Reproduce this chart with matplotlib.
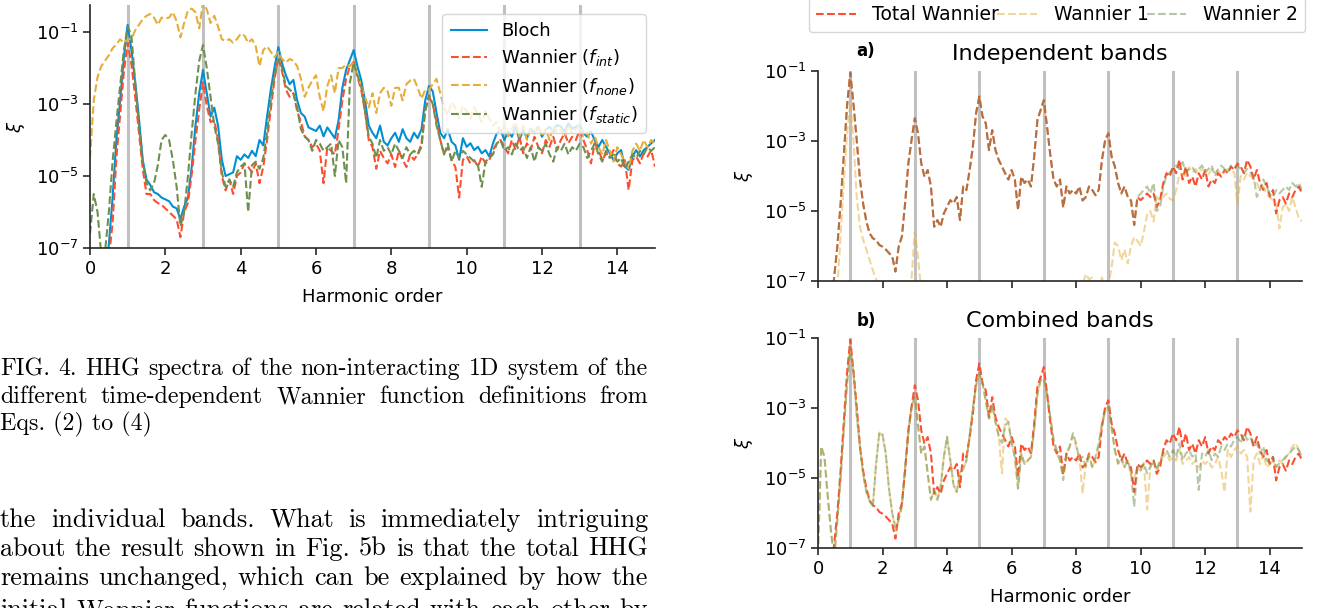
import numpy as np
import matplotlib.pyplot as plt
from matplotlib.ticker import NullLocator

W, H = 1323, 608

# harmonic order grid (step 0.1), all spectra given as log10(xi); -8 = below the axis
harmonic = np.linspace(0, 15, 151)
odd_harmonics = [1, 3, 5, 7, 9, 11, 13]

# ---- Fig. 4 (left) ----
bloch = [
    -8, -8, -8, -8, -8, -6.9, -5.6, -4.0, -2.9, -1.7,
    -0.8, -1.5, -2.4, -3.4, -4.55, -5.1, -5.25, -5.45, -5.5, -5.6,
    -5.65, -5.7, -5.85, -5.9, -6.2, -5.85, -5.6, -4.75, -3.6, -2.7,
    -2.05, -2.7, -3.35, -3.1, -3.6, -4.55, -5.0, -4.95, -4.9, -4.45,
    -4.55, -4.4, -4.5, -4.3, -4.45, -4.0, -4.15, -3.35, -2.6, -1.97,
    -1.42, -1.87, -2.2, -2.45, -2.33, -2.9, -3.25, -3.35, -3.65, -3.7,
    -3.75, -3.6, -3.9, -3.65, -3.8, -3.95, -3.45, -2.55, -2.05, -1.78,
    -1.5, -1.95, -2.33, -2.9, -3.6, -3.8, -3.95, -3.6, -4.05, -4.15,
    -3.95, -3.8, -4.05, -3.7, -3.95, -4.05, -3.8, -3.95, -3.7, -2.9,
    -2.5, -2.65, -3.25, -3.8, -3.95, -3.7, -4.05, -4.15, -4.55, -3.95,
    -4.19, -4.09, -4.28, -4.19, -4.37, -4.28, -4.46, -4.09, -3.81, -3.72,
    -4.0, -3.77, -3.91, -3.63, -4.0, -3.72, -3.95, -3.68, -3.81, -3.63,
    -3.91, -3.72, -3.63, -3.77, -3.58, -3.63, -3.77, -3.54, -3.68, -3.63,
    -3.58, -3.81, -3.91, -3.77, -4.0, -4.19, -4.0, -4.19, -4.37, -4.56,
    -4.37, -4.28, -4.74, -4.83, -4.46, -4.28, -4.46, -4.28, -4.19, -4.09,
    -4.0]
wannier_int = [
    -8, -8, -8, -8, -8, -7.3, -6.3, -4.5, -3.3, -2.1,
    -1.3, -1.9, -2.8, -3.8, -4.8, -5.5, -5.5, -5.67, -5.75, -5.8,
    -5.9, -6.0, -6.1, -6.2, -6.7, -6.0, -5.75, -4.95, -4.0, -3.15,
    -2.4, -3.05, -3.5, -3.45, -4.0, -5.0, -5.4, -5.1, -5.5, -5.0,
    -4.9, -4.65, -4.75, -4.9, -4.65, -5.2, -4.75, -4.0, -3.15, -2.3,
    -1.7, -2.1, -2.6, -2.8, -2.7, -3.2, -3.5, -3.9, -4.0, -4.2,
    -4.1, -4.3, -5.2, -4.2, -4.3, -4.4, -3.7, -2.9, -2.3, -1.95,
    -1.83, -2.25, -2.6, -3.2, -4.0, -4.2, -4.8, -4.3, -4.5, -4.65,
    -4.4, -4.75, -4.3, -4.55, -4.75, -4.4, -4.55, -4.4, -4.1, -3.15,
    -2.8, -3.0, -3.5, -4.0, -4.4, -4.2, -4.55, -4.75, -5.6, -4.55,
    -4.46, -4.65, -4.56, -4.74, -4.46, -4.65, -4.56, -4.28, -4.09, -4.0,
    -4.19, -4.37, -4.0, -4.28, -3.91, -4.37, -4.09, -4.28, -3.91, -4.19,
    -4.37, -4.0, -4.19, -3.91, -4.28, -4.0, -3.81, -4.09, -3.91, -4.0,
    -3.72, -4.0, -4.28, -4.65, -4.09, -4.28, -4.56, -4.37, -4.46, -4.28,
    -4.65, -4.74, -4.56, -5.39, -4.56, -4.46, -4.65, -4.37, -4.46, -4.28,
    -4.74]
wannier_none = [
    -4.5, -2.9, -2.25, -1.95, -1.8, -1.65, -1.45, -1.35, -1.2, -1.3,
    -1.2, -1.2, -0.95, -0.8, -0.65, -0.55, -0.5, -0.6, -0.8, -0.6,
    -0.62, -0.6, -0.45, -0.7, -1.15, -0.75, -0.4, -0.35, -0.45, -0.9,
    -0.18, -0.37, -0.75, -0.55, -0.85, -1.2, -1.25, -1.2, -1.3, -1.2,
    -1.05, -1.1, -1.3, -1.2, -1.4, -1.95, -1.5, -1.4, -1.55, -1.7,
    -1.55, -1.75, -1.85, -1.75, -1.8, -1.95, -2.3, -2.8, -2.55, -2.35,
    -2.2, -2.8, -3.2, -2.5, -2.2, -2.7, -2.0, -2.0, -1.9, -1.95,
    -1.85, -2.2, -2.5, -2.8, -3.1, -2.7, -3.25, -2.7, -2.55, -2.65,
    -3.05, -2.55, -2.55, -2.9, -2.45, -2.35, -2.3, -2.55, -2.85, -2.6,
    -2.6, -2.45, -2.3, -2.7, -3.1, -3.3, -2.95, -3.1, -3.4, -3.05,
    -3.2, -3.4, -3.1, -3.3, -3.5, -3.2, -3.4, -3.6, -3.5, -3.8,
    -3.6, -3.9, -3.7, -3.5, -3.9, -3.6, -4.0, -3.7, -3.8, -3.6,
    -3.9, -3.7, -4.0, -3.6, -3.8, -3.7, -3.9, -3.6, -3.8, -3.7,
    -3.6, -3.9, -3.8, -4.1, -3.9, -4.2, -4.4, -4.0, -4.3, -4.6,
    -4.2, -4.4, -4.6, -4.8, -4.3, -4.1, -4.3, -4.0, -4.2, -4.0,
    -4.1]
wannier_static = [
    -6.6, -5.5, -6.0, -7.2, -7.1, -6.0, -4.6, -3.5, -2.5, -1.5,
    -0.85, -1.1, -2.4, -3.6, -4.6, -5.2, -5.4, -5.2, -4.7, -4.0,
    -3.86, -4.0, -4.56, -5.3, -6.4, -6.0, -5.0, -3.8, -2.7, -1.8,
    -1.36, -2.0, -2.8, -3.6, -4.1, -4.9, -5.3, -5.1, -5.3, -4.9,
    -4.74, -4.65, -6.0, -4.7, -4.6, -4.8, -4.5, -3.8, -2.9, -2.2,
    -1.75, -2.0, -2.5, -2.6, -2.7, -3.1, -3.7, -3.9, -4.0, -4.3,
    -4.0, -4.1, -4.3, -4.2, -4.1, -5.0, -4.0, -4.2, -5.2, -2.4,
    -1.85, -2.2, -2.5, -3.2, -3.9, -4.1, -4.5, -4.0, -4.3, -4.2,
    -4.4, -4.1, -4.3, -4.5, -4.2, -4.4, -4.3, -4.4, -4.2, -3.2,
    -2.75, -3.0, -3.6, -4.0, -4.4, -4.1, -4.6, -4.3, -4.5, -4.3,
    -4.4, -4.5, -4.6, -4.7, -5.3, -4.6, -4.5, -4.4, -4.1, -4.0,
    -4.3, -4.2, -4.4, -4.1, -4.3, -4.2, -4.5, -4.2, -4.6, -4.2,
    -4.3, -4.1, -4.4, -4.6, -4.2, -4.3, -4.1, -4.4, -4.2, -4.3,
    -4.1, -4.2, -4.5, -4.3, -4.1, -4.4, -4.6, -4.3, -4.5, -4.4,
    -4.6, -4.5, -4.8, -4.6, -4.4, -4.5, -4.3, -4.4, -4.2, -4.3,
    -4.2]

# ---- Fig. 5 (right) ----
total_wannier = [
    -8, -8, -8, -8, -8, -6.9, -6.0, -4.8, -3.4, -2.0,
    -1.05, -1.95, -2.97, -4.1, -4.8, -5.3, -5.64, -5.78, -5.83, -5.97,
    -6.02, -6.1, -6.2, -6.3, -6.73, -6.02, -5.73, -4.78, -3.64, -2.97,
    -2.35, -2.78, -3.64, -4.02, -3.83, -4.3, -5.45, -5.26, -5.45, -5.07,
    -4.88, -4.69, -4.78, -4.6, -5.26, -4.3, -4.4, -3.83, -3.16, -2.2,
    -1.73, -2.3, -2.5, -3.26, -2.69, -3.26, -3.54, -3.73, -3.92, -4.1,
    -3.83, -4.1, -4.97, -4.02, -4.2, -4.1, -4.3, -3.45, -2.4, -2.11,
    -1.83, -2.6, -3.4, -4.1, -4.3, -4.1, -4.9, -4.3, -4.5, -4.4,
    -4.5, -4.3, -4.7, -4.6, -4.3, -4.4, -4.55, -4.4, -3.54, -2.97,
    -2.78, -3.45, -3.73, -4.2, -4.5, -4.3, -4.6, -4.7, -5.4, -4.6,
    -4.69, -4.6, -4.5, -4.6, -4.5, -4.88, -4.69, -4.2, -3.92, -4.02,
    -3.73, -3.92, -3.54, -4.1, -3.73, -4.2, -4.02, -4.3, -3.92, -4.1,
    -3.83, -4.3, -4.1, -4.2, -3.92, -4.02, -3.83, -3.92, -3.73, -3.83,
    -3.64, -3.73, -3.92, -3.54, -3.73, -4.1, -3.83, -4.2, -4.4, -4.2,
    -4.6, -4.4, -5.07, -4.69, -4.6, -4.79, -4.5, -4.6, -4.4, -4.3,
    -4.5]
indep_wannier1 = [
    -8, -8, -8, -8, -8, -8, -7.2, -5.7, -4.2, -2.8,
    -1.9, -2.97, -4.6, -5.45, -5.83, -6.1, -6.4, -6.7, -6.95, -7.2,
    -8, -8, -8, -8, -8, -8, -8, -8, -7.5, -6.9,
    -5.6, -6.3, -7.3, -8, -8, -8, -8, -8, -8, -8,
    -8, -8, -8, -8, -8, -8, -8, -8, -8, -8,
    -8, -8, -8, -8, -8, -8, -8, -8, -8, -8,
    -8, -8, -8, -8, -8, -8, -8, -8, -8, -8,
    -8, -8, -8, -8, -8, -8, -8, -8, -8, -8,
    -8, -8, -7.1, -6.8, -6.95, -6.9, -7.0, -7.3, -6.9, -7.3,
    -7.1, -6.6, -5.9, -6.0, -6.4, -6.1, -6.5, -6.0, -5.75, -5.85,
    -6.0, -5.6, -5.1, -5.0, -5.3, -4.6, -4.7, -4.6, -4.5, -4.65,
    -4.7, -4.4, -3.95, -3.95, -4.0, -3.75, -3.9, -3.8, -3.9, -3.8,
    -3.85, -3.95, -3.8, -3.9, -3.85, -3.95, -3.9, -3.8, -3.85, -3.9,
    -4.8, -4.0, -4.1, -3.9, -4.0, -4.1, -4.2, -4.4, -4.3, -4.5,
    -4.6, -4.7, -4.8, -5.5, -4.9, -4.8, -5.0, -4.6, -4.9, -5.2,
    -5.3]
indep_wannier2 = total_wannier[:100] + [
    -4.5, -4.4, -4.3, -4.5, -4.2, -5.0, -4.9, -4.3, -4.0, -3.9,
    -3.8, -3.7, -3.8, -3.6, -3.9, -3.8, -3.75, -3.9, -3.8, -3.7,
    -3.9, -3.8, -3.7, -4.0, -3.8, -3.7, -3.8, -3.9, -3.7, -3.75,
    -3.7, -3.8, -3.9, -3.8, -3.9, -4.0, -4.6, -4.4, -4.1, -4.3,
    -4.5, -4.6, -4.4, -4.5, -4.4, -4.3, -4.4, -4.2, -4.3, -4.2,
    -4.4]
comb_wannier2 = [
    -7.2, -4.1, -4.4, -5.5, -6.5, -7.3, -6.2, -5.0, -3.6, -2.3,
    -1.25, -2.0, -3.2, -4.1, -4.9, -5.4, -5.65, -5.82, -4.6, -3.7,
    -3.75, -4.3, -5.3, -6.0, -6.4, -6.2, -5.8, -4.7, -3.72, -2.96,
    -2.68, -3.5, -4.3, -4.1, -4.87, -5.63, -5.34, -5.63, -5.25, -4.39,
    -3.82, -4.49, -5.2, -5.4, -4.85, -4.75, -4.5, -3.8, -3.0, -2.35,
    -2.0, -2.3, -2.8, -3.3, -2.9, -3.4, -3.8, -4.0, -3.5, -3.4,
    -4.0, -4.4, -5.3, -4.3, -4.6, -4.5, -4.4, -3.6, -2.6, -2.2,
    -2.15, -2.58, -3.25, -3.91, -4.2, -4.49, -5.06, -4.3, -4.1, -3.72,
    -4.01, -4.49, -4.39, -4.68, -4.39, -4.68, -4.39, -4.01, -3.44, -3.06,
    -2.96, -3.53, -4.2, -4.58, -4.39, -4.68, -4.49, -4.87, -5.82, -4.68,
    -4.77, -4.58, -4.87, -4.68, -4.49, -4.77, -4.49, -4.3, -4.2, -4.39,
    -4.2, -4.39, -4.01, -4.49, -4.3, -4.2, -4.39, -4.3, -5.34, -4.3,
    -4.39, -4.2, -4.49, -4.3, -4.39, -4.1, -4.2, -4.01, -4.1, -3.91,
    -3.82, -4.01, -3.72, -3.91, -3.82, -4.1, -4.01, -4.3, -4.1, -4.49,
    -4.58, -4.39, -4.68, -4.58, -4.49, -4.39, -4.3, -4.2, -4.1, -4.2,
    -4.39]
comb_wannier1 = [
    -7.2, -4.1, -4.4, -5.5, -6.5, -7.3, -6.2, -5.0, -3.6, -2.3,
    -1.3, -2.0, -3.2, -4.1, -4.9, -5.4, -5.65, -5.8, -4.6, -3.7,
    -3.8, -4.3, -5.3, -6.0, -6.5, -6.2, -5.8, -4.7, -3.72, -2.96,
    -2.7, -3.5, -4.3, -4.1, -4.87, -5.6, -5.34, -5.6, -5.25, -4.4,
    -3.85, -4.5, -5.2, -5.4, -4.85, -4.75, -4.5, -3.8, -3.0, -2.35,
    -2.05, -2.3, -2.8, -3.3, -2.9, -3.4, -3.8, -4.87, -3.3, -3.4,
    -4.0, -4.4, -5.3, -4.3, -4.6, -4.5, -4.4, -3.6, -2.6, -2.2,
    -2.2, -2.7, -3.3, -3.9, -4.3, -4.5, -4.9, -4.4, -4.1, -3.8,
    -4.1, -4.4, -5.44, -4.6, -4.3, -4.7, -4.5, -4.1, -3.5, -3.1,
    -3.0, -3.6, -4.2, -4.6, -4.5, -4.7, -4.5, -4.9, -5.0, -4.7,
    -4.8, -4.6, -5.9, -4.7, -4.5, -4.8, -4.5, -4.4, -4.3, -4.5,
    -4.4, -4.5, -4.2, -4.6, -4.5, -4.4, -4.6, -4.5, -4.7, -4.5,
    -4.6, -4.5, -4.7, -4.6, -4.4, -4.8, -5.4, -4.2, -4.4, -4.2,
    -4.1, -4.3, -4.2, -4.4, -5.96, -4.5, -4.3, -4.6, -4.3, -4.7,
    -4.6, -4.5, -4.7, -4.5, -4.6, -4.4, -4.3, -4.1, -4.0, -4.2,
    -4.4]

BLUE, RED, YELLOW, GREEN = '#008fd5', '#fc4f30', '#e5ae38', '#6d904f'
INK = '0.15'

caption_lines = [
    "FIG. 4. HHG spectra of the non-interacting 1D system of the",
    "different time-dependent Wannier function definitions from",
]
caption_last = "Eqs. (2) to (4)"
body_lines = [
    "the individual bands.  What is immediately intriguing",
    "about the result shown in Fig. 5b is that the total HHG",
    "remains unchanged, which can be explained by how the",
    "initial Wannier functions are related with each other by",
]


def px_axes(fig, x0, y0, x1, y1):
    return fig.add_axes([x0 / W, 1 - y1 / H, (x1 - x0) / W, (y1 - y0) / H])


def style(ax, ytop):
    for s in ['top', 'right']:
        ax.spines[s].set_visible(False)
    for s in ['left', 'bottom']:
        ax.spines[s].set_color(INK)
        ax.spines[s].set_linewidth(1.2)
    ax.set_yscale('log')
    ax.set_xlim(0, 15)
    ax.set_ylim(1e-7, ytop)
    ax.set_yticks([1e-7, 1e-5, 1e-3, 1e-1])
    ax.yaxis.set_minor_locator(NullLocator())
    ax.set_xticks(range(0, 15, 2))
    ax.tick_params(labelsize=13, length=5, width=1.2, color=INK, labelcolor='black')
    for h in odd_harmonics:
        ax.axvline(h, color='#c0c0c0', lw=2.2, zorder=0)


def lin(vals):
    return 10.0 ** np.array(vals)


fig = plt.figure(figsize=(W / 100, H / 100), dpi=100)

# left chart
ax = px_axes(fig, 90, 5, 655, 248)
style(ax, 10 ** -0.25)
ax.plot(harmonic, lin(bloch), color=BLUE, lw=1.5, label='Bloch')
ax.plot(harmonic, lin(wannier_int), color=RED, lw=1.5, ls='--', label=r'Wannier ($f_{int}$)')
ax.plot(harmonic, lin(wannier_none), color=YELLOW, lw=1.5, ls='--', label=r'Wannier ($f_{none}$)')
ax.plot(harmonic, lin(wannier_static), color=GREEN, lw=1.5, ls='--', label=r'Wannier ($f_{static}$)')
ax.set_xlabel('Harmonic order', fontsize=13, labelpad=7)
ax.set_ylabel(r'$\xi$', fontsize=13, labelpad=6)
ax.legend(loc='upper right', fontsize=13, handlelength=2.0, borderpad=0.45,
          labelspacing=0.4, framealpha=0.8)

# right panels
axa = px_axes(fig, 818, 71, 1302, 281)
style(axa, 1e-1)
axa.tick_params(labelbottom=False)
axa.plot(harmonic, lin(total_wannier), color=RED, lw=1.5, ls='--', label='Total Wannier')
axa.plot(harmonic, lin(indep_wannier1), color=YELLOW, lw=1.5, ls='--', alpha=0.5, label='Wannier 1')
axa.plot(harmonic, lin(indep_wannier2), color=GREEN, lw=1.5, ls='--', alpha=0.5, label='Wannier 2')
axa.set_title('Independent bands', fontsize=16, pad=8)
axa.set_ylabel(r'$\xi$', fontsize=13, labelpad=6)

axb = px_axes(fig, 818, 338, 1302, 548)
style(axb, 1e-1)
axb.plot(harmonic, lin(total_wannier), color=RED, lw=1.5, ls='--')
axb.plot(harmonic, lin(comb_wannier1), color=YELLOW, lw=1.5, ls='--', alpha=0.5)
axb.plot(harmonic, lin(comb_wannier2), color=GREEN, lw=1.5, ls='--', alpha=0.5)
axb.set_title('Combined bands', fontsize=16, pad=8)
axb.set_ylabel(r'$\xi$', fontsize=13, labelpad=6)
axb.set_xlabel('Harmonic order', fontsize=13, labelpad=7)

fig.text(866 / W, 1 - 56 / H, 'a)', fontsize=12, fontweight='bold', ha='center')
fig.text(866 / W, 1 - 326 / H, 'b)', fontsize=12, fontweight='bold', ha='center')

handles, labels = axa.get_legend_handles_labels()
fig.legend(handles, labels, loc='lower center', bbox_to_anchor=(1057 / W, 1 - 41 / H),
           ncol=3, fontsize=13.5, handlelength=2.1, handletextpad=0.9,
           columnspacing=-0.1, borderpad=0.4, framealpha=0.8)

# caption / body text in a Computer-Modern-like serif, fitted to the column width
renderer = fig.canvas.get_renderer()
X0, X1 = 0, 648


def fit_size(line, target):
    probe = fig.text(0, 0, line, fontsize=10, family='cmr10')
    width = probe.get_window_extent(renderer).width
    probe.remove()
    return 10 * target / width


CAPTION_SIZE = fit_size(caption_lines[0], X1 - X0 - 4)
BODY_SIZE = fit_size(body_lines[1], X1 - X0 - 4)


def justify(line, baseline, size):
    words = line.split()
    items = [fig.text(0, 1 - baseline / H, w, fontsize=size, family='cmr10',
                      va='baseline') for w in words]
    widths = [t.get_window_extent(renderer).width for t in items]
    gap = (X1 - X0 - sum(widths)) / (len(words) - 1)
    x = X0
    for t, w in zip(items, widths):
        t.set_x(x / W)
        x += w + gap


for line, base in zip(caption_lines, [375, 403]):
    justify(line, base, CAPTION_SIZE)
fig.text(X0 / W, 1 - 430 / H, caption_last, fontsize=CAPTION_SIZE, family='cmr10',
         va='baseline')
for line, base in zip(body_lines, [527, 556, 585, 617]):
    justify(line, base, BODY_SIZE)

fig.savefig('out.png', dpi=100)
